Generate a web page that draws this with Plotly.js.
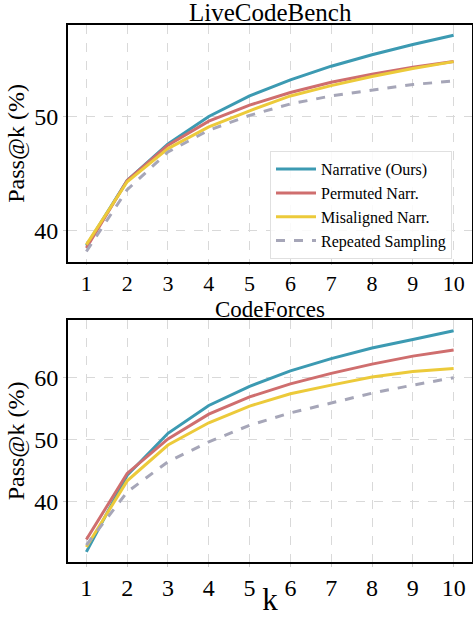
<!DOCTYPE html>
<html>
<head>
<meta charset="utf-8">
<script src="https://cdn.plot.ly/plotly-3.0.1.min.js"></script>
<style>html,body{margin:0;padding:0;background:#fff;}#chart{width:473px;height:617px;}</style>
</head>
<body>
<div id="chart"></div>
<script>
const kValues = [1,2,3,4,5,6,7,8,9,10];
const seriesNames = ["Narrative (Ours)", "Permuted Narr.", "Misaligned Narr.", "Repeated Sampling"];

// LiveCodeBench
const lcbNarrative  = [38.7, 44.4, 47.6, 50.0, 51.8, 53.2, 54.4, 55.4, 56.3, 57.1];
const lcbPermuted   = [38.5, 44.4, 47.5, 49.6, 51.0, 52.1, 53.0, 53.7, 54.3, 54.8];
const lcbMisaligned = [38.8, 44.3, 47.2, 49.1, 50.5, 51.8, 52.7, 53.5, 54.2, 54.8];
const lcbRepeated   = [38.2, 43.6, 46.9, 48.8, 50.1, 51.1, 51.8, 52.3, 52.8, 53.1];

// CodeForces
const cfNarrative  = [31.8, 44.2, 51.0, 55.5, 58.6, 61.1, 63.1, 64.8, 66.2, 67.6];
const cfPermuted   = [33.8, 44.5, 50.1, 54.1, 56.9, 59.0, 60.7, 62.2, 63.5, 64.5];
const cfMisaligned = [32.6, 43.3, 49.1, 52.7, 55.4, 57.4, 58.8, 60.1, 61.0, 61.5];
const cfRepeated   = [32.9, 41.5, 46.4, 49.6, 52.3, 54.3, 55.9, 57.5, 58.8, 60.0];

const colors = ["#3c9ab2", "#cf6e6e", "#ecca3a", "#a6a6b8"];
const dashes = ["solid", "solid", "solid", "dash"];
const font = "Liberation Serif, Times New Roman, serif";

const traces = [];
[lcbNarrative, lcbPermuted, lcbMisaligned, lcbRepeated].forEach((ys, i) => {
  traces.push({x: kValues, y: ys, type: "scatter", mode: "lines", name: seriesNames[i],
    line: {color: colors[i], width: 3, dash: dashes[i]}, xaxis: "x", yaxis: "y", showlegend: true});
});
[cfNarrative, cfPermuted, cfMisaligned, cfRepeated].forEach((ys, i) => {
  traces.push({x: kValues, y: ys, type: "scatter", mode: "lines", name: seriesNames[i],
    line: {color: colors[i], width: 3, dash: dashes[i]}, xaxis: "x2", yaxis: "y2", showlegend: false});
});

const axisCommon = {
  showline: true, mirror: true, linecolor: "#000", linewidth: 2,
  showgrid: true, gridcolor: "#d9d9d9", griddash: "dash", gridwidth: 1,
  zeroline: false, ticks: "outside", ticklen: 3, tickwidth: 1, tickcolor: "#cccccc",
  tickfont: {family: font, size: 24, color: "#000"}
};

const layout = {
  width: 473, height: 617,
  margin: {l: 68, r: 1, t: 25, b: 55},
  paper_bgcolor: "#fff", plot_bgcolor: "#fff",
  font: {family: font, color: "#000"},
  xaxis: Object.assign({}, axisCommon, {domain: [0, 1], range: [0.55, 10.45], tickvals: kValues, anchor: "y",
    ticklen: 1, tickfont: {family: font, size: 22, color: "#000"}}),
  yaxis: Object.assign({}, axisCommon, {domain: [0.559, 1], range: [37.3, 58.0], tickvals: [40, 50], anchor: "x",
    title: {text: "Pass@k (%)", font: {family: font, size: 24}, standoff: 3}}),
  xaxis2: Object.assign({}, axisCommon, {domain: [0, 1], range: [0.55, 10.45], tickvals: kValues, anchor: "y2",
    title: {text: "k", font: {family: font, size: 31}, standoff: 0}}),
  yaxis2: Object.assign({}, axisCommon, {domain: [0, 0.4507], range: [30.16, 69.35], tickvals: [40, 50, 60], anchor: "x2",
    title: {text: "Pass@k (%)", font: {family: font, size: 24}, standoff: 3}}),
  legend: {x: 0.5, y: 0.765, xanchor: "left", yanchor: "top",
    bgcolor: "rgba(255,255,255,0.85)", bordercolor: "#e0e0e0", borderwidth: 1,
    font: {family: font, size: 16, color: "#000"}, tracegroupgap: 0, itemwidth: 40},
  annotations: [
    {text: "LiveCodeBench", xref: "paper", yref: "paper", x: 0.5, y: 1.0242, xanchor: "center", yanchor: "middle",
      showarrow: false, font: {family: font, size: 25, color: "#000"}},
    {text: "CodeForces", xref: "paper", yref: "paper", x: 0.5, y: 0.4507, yshift: -4, xanchor: "center", yanchor: "bottom",
      showarrow: false, font: {family: font, size: 23, color: "#000"}}
  ]
};

Plotly.newPlot("chart", traces, layout, {displayModeBar: false, staticPlot: true});
</script>
</body>
</html>
